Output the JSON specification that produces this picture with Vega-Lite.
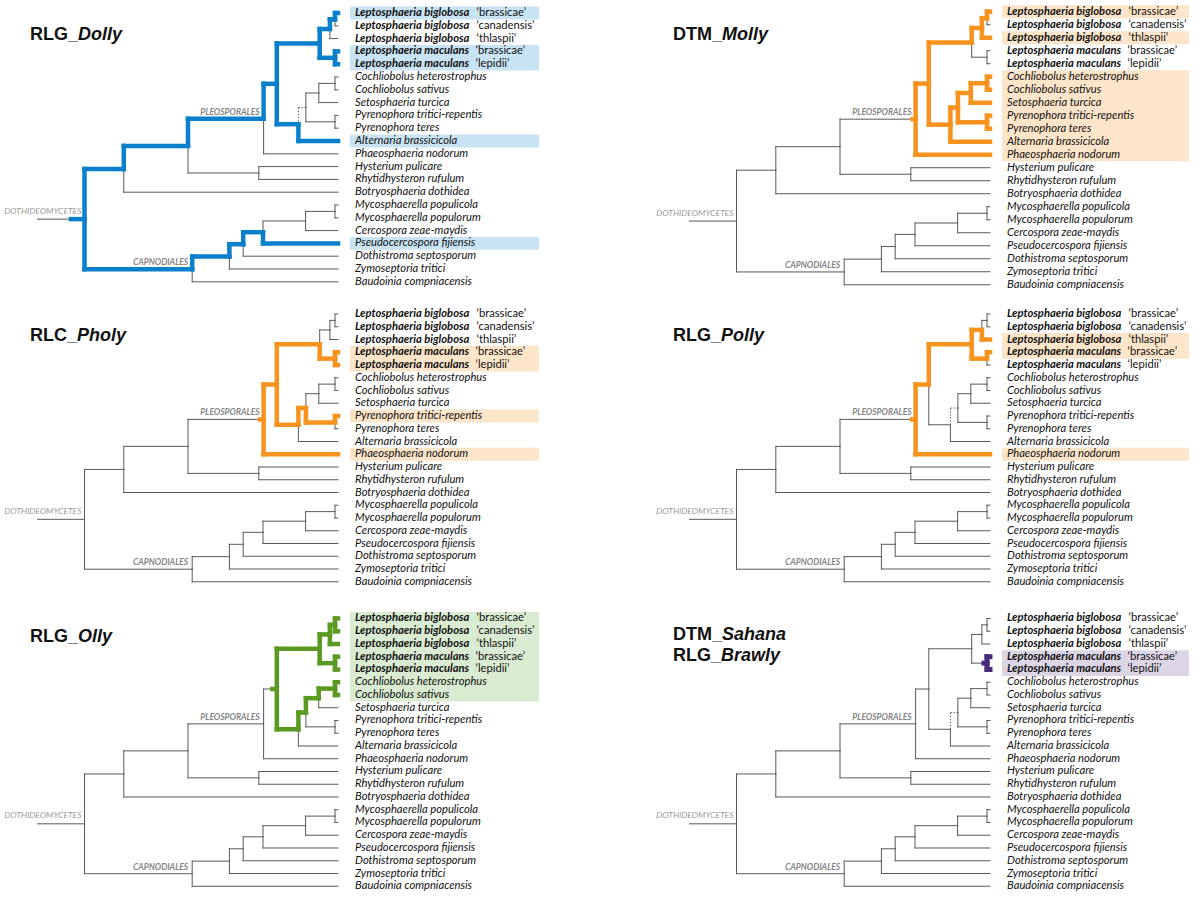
{
"$schema": "https://vega.github.io/schema/vega-lite/v6.json",
"background": "white",
"padding": 0,
"config": {"view": {"stroke": null}, "axis": {"disable": true}},
"datasets": {
"nodes": [
{"id":"R0","depth":0,"pos":17.1035},
{"id":"I","parent":"R0","depth":15.5,"pos":17.1035},
{"id":"H","parent":"I","depth":28.6,"pos":13.1914},
{"id":"capno","parent":"I","depth":51.4,"pos":21.0156},
{"id":"F","parent":"H","depth":50,"pos":11.3828},
{"id":"E","parent":"F","depth":75.2,"pos":9.2656},
{"id":"G","parent":"F","depth":73.6,"pos":13.5},
{"id":"A","parent":"E","depth":79.6,"pos":6.5313},
{"id":"lepto","parent":"A","depth":93.9,"pos":3.375},
{"id":"big","parent":"lepto","depth":97.3,"pos":2.25},
{"id":"p12","parent":"big","depth":99,"pos":1.5},
{"id":"mac","parent":"lepto","depth":99,"pos":4.5},
{"id":"B","parent":"A","depth":86.8,"pos":9.6875},
{"id":"C","parent":"B","depth":89.3,"pos":8.375},
{"id":"D","parent":"C","depth":93.6,"pos":7.25},
{"id":"coch","parent":"D","depth":99,"pos":6.5},
{"id":"pyr","parent":"C","depth":99,"pos":9.5},
{"id":"m5","parent":"capno","depth":63.8,"pos":20.0313},
{"id":"m4","parent":"m5","depth":68.4,"pos":19.0625},
{"id":"m3","parent":"m4","depth":75,"pos":18.125},
{"id":"m2","parent":"m3","depth":89.2,"pos":17.25},
{"id":"myco","parent":"m2","depth":99,"pos":16.5},
{"id":"L1","parent":"p12","depth":100,"pos":1,"name":"Leptosphaeria biglobosa","strain":"‘brassicae’"},
{"id":"L2","parent":"p12","depth":100,"pos":2,"name":"Leptosphaeria biglobosa","strain":"‘canadensis’"},
{"id":"L3","parent":"big","depth":100,"pos":3,"name":"Leptosphaeria biglobosa","strain":"‘thlaspii’"},
{"id":"L4","parent":"mac","depth":100,"pos":4,"name":"Leptosphaeria maculans","strain":"‘brassicae’"},
{"id":"L5","parent":"mac","depth":100,"pos":5,"name":"Leptosphaeria maculans","strain":"‘lepidii’"},
{"id":"L6","parent":"coch","depth":100,"pos":6,"name":"Cochliobolus heterostrophus"},
{"id":"L7","parent":"coch","depth":100,"pos":7,"name":"Cochliobolus sativus"},
{"id":"L8","parent":"D","depth":100,"pos":8,"name":"Setosphaeria turcica"},
{"id":"L9","parent":"pyr","depth":100,"pos":9,"name":"Pyrenophora tritici-repentis"},
{"id":"L10","parent":"pyr","depth":100,"pos":10,"name":"Pyrenophora teres"},
{"id":"L11","parent":"B","depth":100,"pos":11,"name":"Alternaria brassicicola"},
{"id":"L12","parent":"E","depth":100,"pos":12,"name":"Phaeosphaeria nodorum"},
{"id":"L13","parent":"G","depth":100,"pos":13,"name":"Hysterium pulicare"},
{"id":"L14","parent":"G","depth":100,"pos":14,"name":"Rhytidhysteron rufulum"},
{"id":"L15","parent":"H","depth":100,"pos":15,"name":"Botryosphaeria dothidea"},
{"id":"L16","parent":"myco","depth":100,"pos":16,"name":"Mycosphaerella populicola"},
{"id":"L17","parent":"myco","depth":100,"pos":17,"name":"Mycosphaerella populorum"},
{"id":"L18","parent":"m2","depth":100,"pos":18,"name":"Cercospora zeae-maydis"},
{"id":"L19","parent":"m3","depth":100,"pos":19,"name":"Pseudocercospora fijiensis"},
{"id":"L20","parent":"m4","depth":100,"pos":20,"name":"Dothistroma septosporum"},
{"id":"L21","parent":"m5","depth":100,"pos":21,"name":"Zymoseptoria tritici"},
{"id":"L22","parent":"capno","depth":100,"pos":22,"name":"Baudoinia compniacensis"}
],
"hl": [
{"panel":"Dolly","node":"H"},{"panel":"Dolly","node":"F"},{"panel":"Dolly","node":"E"},{"panel":"Dolly","node":"A"},{"panel":"Dolly","node":"lepto"},{"panel":"Dolly","node":"big"},{"panel":"Dolly","node":"p12"},{"panel":"Dolly","node":"L1"},{"panel":"Dolly","node":"mac"},{"panel":"Dolly","node":"L4"},{"panel":"Dolly","node":"L5"},{"panel":"Dolly","node":"B"},{"panel":"Dolly","node":"L11"},{"panel":"Dolly","node":"capno"},{"panel":"Dolly","node":"m5"},{"panel":"Dolly","node":"m4"},{"panel":"Dolly","node":"m3"},{"panel":"Dolly","node":"L19"},
{"panel":"Molly","node":"A"},{"panel":"Molly","node":"L12"},{"panel":"Molly","node":"lepto"},{"panel":"Molly","node":"big"},{"panel":"Molly","node":"p12"},{"panel":"Molly","node":"L1"},{"panel":"Molly","node":"L3"},{"panel":"Molly","node":"B"},{"panel":"Molly","node":"L11"},{"panel":"Molly","node":"C"},{"panel":"Molly","node":"D"},{"panel":"Molly","node":"coch"},{"panel":"Molly","node":"L6"},{"panel":"Molly","node":"L7"},{"panel":"Molly","node":"L8"},{"panel":"Molly","node":"pyr"},{"panel":"Molly","node":"L9"},{"panel":"Molly","node":"L10"},
{"panel":"Pholy","node":"A"},{"panel":"Pholy","node":"L12"},{"panel":"Pholy","node":"lepto"},{"panel":"Pholy","node":"mac"},{"panel":"Pholy","node":"L4"},{"panel":"Pholy","node":"L5"},{"panel":"Pholy","node":"B"},{"panel":"Pholy","node":"C"},{"panel":"Pholy","node":"pyr"},{"panel":"Pholy","node":"L9"},
{"panel":"Polly","node":"A"},{"panel":"Polly","node":"L12"},{"panel":"Polly","node":"lepto"},{"panel":"Polly","node":"big"},{"panel":"Polly","node":"L3"},{"panel":"Polly","node":"mac"},{"panel":"Polly","node":"L4"},
{"panel":"Olly","node":"lepto"},{"panel":"Olly","node":"big"},{"panel":"Olly","node":"p12"},{"panel":"Olly","node":"L1"},{"panel":"Olly","node":"L2"},{"panel":"Olly","node":"L3"},{"panel":"Olly","node":"mac"},{"panel":"Olly","node":"L4"},{"panel":"Olly","node":"L5"},{"panel":"Olly","node":"B"},{"panel":"Olly","node":"C"},{"panel":"Olly","node":"D"},{"panel":"Olly","node":"coch"},{"panel":"Olly","node":"L6"},{"panel":"Olly","node":"L7"},
{"panel":"Sahana","node":"L4"},{"panel":"Sahana","node":"L5"}
],
"stubs": [
{"panel":"Dolly","node":"I"},{"panel":"Molly","node":"E"},{"panel":"Pholy","node":"E"},{"panel":"Polly","node":"E"},{"panel":"Olly","node":"A"},{"panel":"Sahana","node":"mac"}
],
"boxes": [
{"panel":"Dolly","from":1,"to":1},{"panel":"Dolly","from":4,"to":5},{"panel":"Dolly","from":11,"to":11},{"panel":"Dolly","from":19,"to":19},
{"panel":"Molly","from":1,"to":1},{"panel":"Molly","from":3,"to":3},{"panel":"Molly","from":6,"to":12},
{"panel":"Pholy","from":4,"to":5},{"panel":"Pholy","from":9,"to":9},{"panel":"Pholy","from":12,"to":12},
{"panel":"Polly","from":3,"to":4},{"panel":"Polly","from":12,"to":12},
{"panel":"Olly","from":1,"to":7},
{"panel":"Sahana","from":4,"to":5}
],
"clades": [
{"node":"I","label":"DOTHIDEOMYCETES"},{"node":"E","label":"PLEOSPORALES"},{"node":"capno","label":"CAPNODIALES"}
],
"titles": [
{"panel":"Dolly","line":1,"prefix":"RLG_","name":"Dolly"},
{"panel":"Molly","line":1,"prefix":"DTM_","name":"Molly"},
{"panel":"Pholy","line":1,"prefix":"RLC_","name":"Pholy"},
{"panel":"Polly","line":1,"prefix":"RLG_","name":"Polly"},
{"panel":"Olly","line":1,"prefix":"RLG_","name":"Olly"},
{"panel":"Sahana","line":1,"prefix":"DTM_","name":"Sahana"},
{"panel":"Sahana","line":2,"prefix":"RLG_","name":"Brawly"}
]
},
"columns": 2,
"spacing": 0,
"align": "each",
"bounds": "flush",
"concat": [
{"width":652,"height":301,"layer":[
{"data":{"name":"boxes"},"transform":[{"filter":"datum.panel == 'Dolly'"}],"mark":{"type":"rect","color":"#c8e3f3","yOffset":-6.4,"y2Offset":6.4},"encoding":{"x":{"datum":104,"type":"quantitative","scale":{"domain":[-12.667,204.667],"nice":false,"zero":false},"axis":null},"x2":{"datum":167},"y":{"field":"from","type":"quantitative","scale":{"domain":[-0.0156,23.5],"reverse":true,"nice":false,"zero":false},"axis":null},"y2":{"field":"to"}}},
{"data":{"name":"nodes"},"transform":[{"filter":"datum.parent && datum.id != 'C'"},{"lookup":"parent","from":{"data":{"name":"nodes"},"key":"id","fields":["depth","pos"]},"as":["pdepth","ppos"]}],"mark":{"type":"rule","color":"#595959","strokeWidth":1,"strokeCap":"square"},"encoding":{"x":{"field":"pdepth","type":"quantitative"},"y":{"field":"ppos","type":"quantitative"},"y2":{"field":"pos"}}},
{"data":{"name":"nodes"},"transform":[{"filter":"datum.parent && datum.id != 'C'"},{"lookup":"parent","from":{"data":{"name":"nodes"},"key":"id","fields":["depth","pos"]},"as":["pdepth","ppos"]}],"mark":{"type":"rule","color":"#595959","strokeWidth":1,"strokeCap":"square"},"encoding":{"x":{"field":"pdepth","type":"quantitative"},"x2":{"field":"depth"},"y":{"field":"pos","type":"quantitative"}}},
{"data":{"name":"nodes"},"transform":[{"filter":"datum.id == 'C'"},{"lookup":"parent","from":{"data":{"name":"nodes"},"key":"id","fields":["depth","pos"]},"as":["pdepth","ppos"]}],"mark":{"type":"rule","color":"#666666","strokeWidth":1,"strokeDash":[1.5,1.5]},"encoding":{"x":{"field":"pdepth","type":"quantitative"},"y":{"field":"ppos","type":"quantitative"},"y2":{"field":"pos"}}},
{"data":{"name":"nodes"},"transform":[{"filter":"datum.id == 'C'"},{"lookup":"parent","from":{"data":{"name":"nodes"},"key":"id","fields":["depth","pos"]},"as":["pdepth","ppos"]}],"mark":{"type":"rule","color":"#666666","strokeWidth":1,"strokeDash":[1.5,1.5]},"encoding":{"x":{"field":"pdepth","type":"quantitative"},"x2":{"field":"depth"},"y":{"field":"pos","type":"quantitative"}}},
{"data":{"name":"hl"},"transform":[{"filter":"datum.panel == 'Dolly'"},{"lookup":"node","from":{"data":{"name":"nodes"},"key":"id","fields":["parent","depth","pos"]}},{"lookup":"parent","from":{"data":{"name":"nodes"},"key":"id","fields":["depth","pos"]},"as":["pdepth","ppos"]}],"mark":{"type":"rule","color":"#0a7fcc","strokeWidth":4.5,"strokeCap":"square"},"encoding":{"x":{"field":"pdepth","type":"quantitative"},"y":{"field":"ppos","type":"quantitative"},"y2":{"field":"pos"}}},
{"data":{"name":"hl"},"transform":[{"filter":"datum.panel == 'Dolly'"},{"lookup":"node","from":{"data":{"name":"nodes"},"key":"id","fields":["parent","depth","pos"]}},{"lookup":"parent","from":{"data":{"name":"nodes"},"key":"id","fields":["depth","pos"]},"as":["pdepth","ppos"]}],"mark":{"type":"rule","color":"#0a7fcc","strokeWidth":4.5,"strokeCap":"square"},"encoding":{"x":{"field":"pdepth","type":"quantitative"},"x2":{"field":"depth"},"y":{"field":"pos","type":"quantitative"}}},
{"data":{"name":"stubs"},"transform":[{"filter":"datum.panel == 'Dolly'"},{"lookup":"node","from":{"data":{"name":"nodes"},"key":"id","fields":["depth","pos"]}}],"mark":{"type":"rule","color":"#0a7fcc","strokeWidth":4.5,"strokeCap":"square","xOffset":-13.5},"encoding":{"x":{"field":"depth","type":"quantitative"},"x2":{"field":"depth"},"y":{"field":"pos","type":"quantitative"}}},
{"data":{"name":"nodes"},"transform":[{"filter":"datum.strain"}],"mark":{"type":"text","align":"left","baseline":"middle","dx":17,"font":"Lato","fontSize":11.2,"fontStyle":"italic","fontWeight":"bold","color":"#111111"},"encoding":{"x":{"field":"depth","type":"quantitative"},"y":{"field":"pos","type":"quantitative"},"text":{"field":"name"}}},
{"data":{"name":"nodes"},"transform":[{"filter":"datum.name && !datum.strain"}],"mark":{"type":"text","align":"left","baseline":"middle","dx":17,"font":"Lato","fontSize":11.2,"fontStyle":"italic","color":"#111111"},"encoding":{"x":{"field":"depth","type":"quantitative"},"y":{"field":"pos","type":"quantitative"},"text":{"field":"name"}}},
{"data":{"name":"nodes"},"transform":[{"filter":"datum.name == 'Leptosphaeria biglobosa'"}],"mark":{"type":"text","align":"left","baseline":"middle","dx":138.5,"font":"Lato","fontSize":11.2,"color":"#111111"},"encoding":{"x":{"field":"depth","type":"quantitative"},"y":{"field":"pos","type":"quantitative"},"text":{"field":"strain"}}},
{"data":{"name":"nodes"},"transform":[{"filter":"datum.name == 'Leptosphaeria maculans'"}],"mark":{"type":"text","align":"left","baseline":"middle","dx":137.5,"font":"Lato","fontSize":11.2,"color":"#111111"},"encoding":{"x":{"field":"depth","type":"quantitative"},"y":{"field":"pos","type":"quantitative"},"text":{"field":"strain"}}},
{"data":{"name":"clades"},"transform":[{"filter":"datum.node != 'I'"},{"lookup":"node","from":{"data":{"name":"nodes"},"key":"id","fields":["depth","pos"]}}],"mark":{"type":"text","align":"right","baseline":"alphabetic","dx":-4,"dy":-4,"font":"Lato","fontSize":8.5,"fontStyle":"italic","fontWeight":"bold","color":"#858585"},"encoding":{"x":{"field":"depth","type":"quantitative"},"y":{"field":"pos","type":"quantitative"},"text":{"field":"label"}}},
{"data":{"name":"clades"},"transform":[{"filter":"datum.node == 'I'"},{"lookup":"node","from":{"data":{"name":"nodes"},"key":"id","fields":["depth","pos"]}}],"mark":{"type":"text","align":"right","baseline":"alphabetic","dx":-3,"dy":-5.5,"font":"Lato","fontSize":8.5,"fontStyle":"italic","color":"#9a9a9a"},"encoding":{"x":{"field":"depth","type":"quantitative"},"y":{"field":"pos","type":"quantitative"},"text":{"field":"label"}}},
{"data":{"name":"titles"},"transform":[{"filter":"datum.panel == 'Dolly'"}],"mark":{"type":"text","align":"right","baseline":"middle","font":"Liberation Sans","fontSize":18,"fontWeight":"bold","color":"#111111"},"encoding":{"x":{"datum":13.33,"type":"quantitative"},"y":{"datum":2.72,"type":"quantitative"},"text":{"field":"prefix"}}},
{"data":{"name":"titles"},"transform":[{"filter":"datum.panel == 'Dolly'"}],"mark":{"type":"text","align":"left","baseline":"middle","font":"Liberation Sans","fontSize":18,"fontWeight":"bold","fontStyle":"italic","color":"#111111"},"encoding":{"x":{"datum":13.33,"type":"quantitative"},"y":{"datum":2.72,"type":"quantitative"},"text":{"field":"name"}}}
]},
{"width":548,"height":301,"layer":[
{"data":{"name":"boxes"},"transform":[{"filter":"datum.panel == 'Molly'"}],"mark":{"type":"rect","color":"#fde5c9","yOffset":-6.5,"y2Offset":6.5},"encoding":{"x":{"datum":104,"type":"quantitative","scale":{"domain":[-12.667,170],"nice":false,"zero":false},"axis":null},"x2":{"datum":166.3},"y":{"field":"from","type":"quantitative","scale":{"domain":[0.1,23.25],"reverse":true,"nice":false,"zero":false},"axis":null},"y2":{"field":"to"}}},
{"data":{"name":"nodes"},"transform":[{"filter":"datum.parent && datum.id != 'C'"},{"lookup":"parent","from":{"data":{"name":"nodes"},"key":"id","fields":["depth","pos"]},"as":["pdepth","ppos"]}],"mark":{"type":"rule","color":"#595959","strokeWidth":1,"strokeCap":"square"},"encoding":{"x":{"field":"pdepth","type":"quantitative"},"y":{"field":"ppos","type":"quantitative"},"y2":{"field":"pos"}}},
{"data":{"name":"nodes"},"transform":[{"filter":"datum.parent && datum.id != 'C'"},{"lookup":"parent","from":{"data":{"name":"nodes"},"key":"id","fields":["depth","pos"]},"as":["pdepth","ppos"]}],"mark":{"type":"rule","color":"#595959","strokeWidth":1,"strokeCap":"square"},"encoding":{"x":{"field":"pdepth","type":"quantitative"},"x2":{"field":"depth"},"y":{"field":"pos","type":"quantitative"}}},
{"data":{"name":"nodes"},"transform":[{"filter":"datum.id == 'C'"},{"lookup":"parent","from":{"data":{"name":"nodes"},"key":"id","fields":["depth","pos"]},"as":["pdepth","ppos"]}],"mark":{"type":"rule","color":"#666666","strokeWidth":1,"strokeDash":[1.5,1.5]},"encoding":{"x":{"field":"pdepth","type":"quantitative"},"y":{"field":"ppos","type":"quantitative"},"y2":{"field":"pos"}}},
{"data":{"name":"nodes"},"transform":[{"filter":"datum.id == 'C'"},{"lookup":"parent","from":{"data":{"name":"nodes"},"key":"id","fields":["depth","pos"]},"as":["pdepth","ppos"]}],"mark":{"type":"rule","color":"#666666","strokeWidth":1,"strokeDash":[1.5,1.5]},"encoding":{"x":{"field":"pdepth","type":"quantitative"},"x2":{"field":"depth"},"y":{"field":"pos","type":"quantitative"}}},
{"data":{"name":"hl"},"transform":[{"filter":"datum.panel == 'Molly'"},{"lookup":"node","from":{"data":{"name":"nodes"},"key":"id","fields":["parent","depth","pos"]}},{"lookup":"parent","from":{"data":{"name":"nodes"},"key":"id","fields":["depth","pos"]},"as":["pdepth","ppos"]}],"mark":{"type":"rule","color":"#f7931e","strokeWidth":4.5,"strokeCap":"square"},"encoding":{"x":{"field":"pdepth","type":"quantitative"},"y":{"field":"ppos","type":"quantitative"},"y2":{"field":"pos"}}},
{"data":{"name":"hl"},"transform":[{"filter":"datum.panel == 'Molly'"},{"lookup":"node","from":{"data":{"name":"nodes"},"key":"id","fields":["parent","depth","pos"]}},{"lookup":"parent","from":{"data":{"name":"nodes"},"key":"id","fields":["depth","pos"]},"as":["pdepth","ppos"]}],"mark":{"type":"rule","color":"#f7931e","strokeWidth":4.5,"strokeCap":"square"},"encoding":{"x":{"field":"pdepth","type":"quantitative"},"x2":{"field":"depth"},"y":{"field":"pos","type":"quantitative"}}},
{"data":{"name":"stubs"},"transform":[{"filter":"datum.panel == 'Molly'"},{"lookup":"node","from":{"data":{"name":"nodes"},"key":"id","fields":["depth","pos"]}}],"mark":{"type":"rule","color":"#f7931e","strokeWidth":4.5,"strokeCap":"square","xOffset":-3},"encoding":{"x":{"field":"depth","type":"quantitative"},"x2":{"field":"depth"},"y":{"field":"pos","type":"quantitative"}}},
{"data":{"name":"nodes"},"transform":[{"filter":"datum.strain"}],"mark":{"type":"text","align":"left","baseline":"middle","dx":17,"font":"Lato","fontSize":11.2,"fontStyle":"italic","fontWeight":"bold","color":"#111111"},"encoding":{"x":{"field":"depth","type":"quantitative"},"y":{"field":"pos","type":"quantitative"},"text":{"field":"name"}}},
{"data":{"name":"nodes"},"transform":[{"filter":"datum.name && !datum.strain"}],"mark":{"type":"text","align":"left","baseline":"middle","dx":17,"font":"Lato","fontSize":11.2,"fontStyle":"italic","color":"#111111"},"encoding":{"x":{"field":"depth","type":"quantitative"},"y":{"field":"pos","type":"quantitative"},"text":{"field":"name"}}},
{"data":{"name":"nodes"},"transform":[{"filter":"datum.name == 'Leptosphaeria biglobosa'"}],"mark":{"type":"text","align":"left","baseline":"middle","dx":138.5,"font":"Lato","fontSize":11.2,"color":"#111111"},"encoding":{"x":{"field":"depth","type":"quantitative"},"y":{"field":"pos","type":"quantitative"},"text":{"field":"strain"}}},
{"data":{"name":"nodes"},"transform":[{"filter":"datum.name == 'Leptosphaeria maculans'"}],"mark":{"type":"text","align":"left","baseline":"middle","dx":137.5,"font":"Lato","fontSize":11.2,"color":"#111111"},"encoding":{"x":{"field":"depth","type":"quantitative"},"y":{"field":"pos","type":"quantitative"},"text":{"field":"strain"}}},
{"data":{"name":"clades"},"transform":[{"filter":"datum.node != 'I'"},{"lookup":"node","from":{"data":{"name":"nodes"},"key":"id","fields":["depth","pos"]}}],"mark":{"type":"text","align":"right","baseline":"alphabetic","dx":-4,"dy":-4,"font":"Lato","fontSize":8.5,"fontStyle":"italic","fontWeight":"bold","color":"#858585"},"encoding":{"x":{"field":"depth","type":"quantitative"},"y":{"field":"pos","type":"quantitative"},"text":{"field":"label"}}},
{"data":{"name":"clades"},"transform":[{"filter":"datum.node == 'I'"},{"lookup":"node","from":{"data":{"name":"nodes"},"key":"id","fields":["depth","pos"]}}],"mark":{"type":"text","align":"right","baseline":"alphabetic","dx":-3,"dy":-5.5,"font":"Lato","fontSize":8.5,"fontStyle":"italic","color":"#9a9a9a"},"encoding":{"x":{"field":"depth","type":"quantitative"},"y":{"field":"pos","type":"quantitative"},"text":{"field":"label"}}},
{"data":{"name":"titles"},"transform":[{"filter":"datum.panel == 'Molly'"}],"mark":{"type":"text","align":"right","baseline":"middle","font":"Liberation Sans","fontSize":18,"fontWeight":"bold","color":"#111111"},"encoding":{"x":{"datum":10.67,"type":"quantitative"},"y":{"datum":2.79,"type":"quantitative"},"text":{"field":"prefix"}}},
{"data":{"name":"titles"},"transform":[{"filter":"datum.panel == 'Molly'"}],"mark":{"type":"text","align":"left","baseline":"middle","font":"Liberation Sans","fontSize":18,"fontWeight":"bold","fontStyle":"italic","color":"#111111"},"encoding":{"x":{"datum":10.67,"type":"quantitative"},"y":{"datum":2.79,"type":"quantitative"},"text":{"field":"name"}}}
]},
{"width":652,"height":304,"layer":[
{"data":{"name":"boxes"},"transform":[{"filter":"datum.panel == 'Pholy'"}],"mark":{"type":"rect","color":"#fde5c9","yOffset":-6.4,"y2Offset":6.4},"encoding":{"x":{"datum":104,"type":"quantitative","scale":{"domain":[-12.667,204.667],"nice":false,"zero":false},"axis":null},"x2":{"datum":167},"y":{"field":"from","type":"quantitative","scale":{"domain":[-0.0196,23.823],"reverse":true,"nice":false,"zero":false},"axis":null},"y2":{"field":"to"}}},
{"data":{"name":"nodes"},"transform":[{"filter":"datum.parent && datum.id != 'C'"},{"lookup":"parent","from":{"data":{"name":"nodes"},"key":"id","fields":["depth","pos"]},"as":["pdepth","ppos"]}],"mark":{"type":"rule","color":"#595959","strokeWidth":1,"strokeCap":"square"},"encoding":{"x":{"field":"pdepth","type":"quantitative"},"y":{"field":"ppos","type":"quantitative"},"y2":{"field":"pos"}}},
{"data":{"name":"nodes"},"transform":[{"filter":"datum.parent && datum.id != 'C'"},{"lookup":"parent","from":{"data":{"name":"nodes"},"key":"id","fields":["depth","pos"]},"as":["pdepth","ppos"]}],"mark":{"type":"rule","color":"#595959","strokeWidth":1,"strokeCap":"square"},"encoding":{"x":{"field":"pdepth","type":"quantitative"},"x2":{"field":"depth"},"y":{"field":"pos","type":"quantitative"}}},
{"data":{"name":"nodes"},"transform":[{"filter":"datum.id == 'C'"},{"lookup":"parent","from":{"data":{"name":"nodes"},"key":"id","fields":["depth","pos"]},"as":["pdepth","ppos"]}],"mark":{"type":"rule","color":"#666666","strokeWidth":1,"strokeDash":[1.5,1.5]},"encoding":{"x":{"field":"pdepth","type":"quantitative"},"y":{"field":"ppos","type":"quantitative"},"y2":{"field":"pos"}}},
{"data":{"name":"nodes"},"transform":[{"filter":"datum.id == 'C'"},{"lookup":"parent","from":{"data":{"name":"nodes"},"key":"id","fields":["depth","pos"]},"as":["pdepth","ppos"]}],"mark":{"type":"rule","color":"#666666","strokeWidth":1,"strokeDash":[1.5,1.5]},"encoding":{"x":{"field":"pdepth","type":"quantitative"},"x2":{"field":"depth"},"y":{"field":"pos","type":"quantitative"}}},
{"data":{"name":"hl"},"transform":[{"filter":"datum.panel == 'Pholy'"},{"lookup":"node","from":{"data":{"name":"nodes"},"key":"id","fields":["parent","depth","pos"]}},{"lookup":"parent","from":{"data":{"name":"nodes"},"key":"id","fields":["depth","pos"]},"as":["pdepth","ppos"]}],"mark":{"type":"rule","color":"#f7931e","strokeWidth":4.5,"strokeCap":"square"},"encoding":{"x":{"field":"pdepth","type":"quantitative"},"y":{"field":"ppos","type":"quantitative"},"y2":{"field":"pos"}}},
{"data":{"name":"hl"},"transform":[{"filter":"datum.panel == 'Pholy'"},{"lookup":"node","from":{"data":{"name":"nodes"},"key":"id","fields":["parent","depth","pos"]}},{"lookup":"parent","from":{"data":{"name":"nodes"},"key":"id","fields":["depth","pos"]},"as":["pdepth","ppos"]}],"mark":{"type":"rule","color":"#f7931e","strokeWidth":4.5,"strokeCap":"square"},"encoding":{"x":{"field":"pdepth","type":"quantitative"},"x2":{"field":"depth"},"y":{"field":"pos","type":"quantitative"}}},
{"data":{"name":"stubs"},"transform":[{"filter":"datum.panel == 'Pholy'"},{"lookup":"node","from":{"data":{"name":"nodes"},"key":"id","fields":["depth","pos"]}}],"mark":{"type":"rule","color":"#f7931e","strokeWidth":4.5,"strokeCap":"square","xOffset":-3.5},"encoding":{"x":{"field":"depth","type":"quantitative"},"x2":{"field":"depth"},"y":{"field":"pos","type":"quantitative"}}},
{"data":{"name":"nodes"},"transform":[{"filter":"datum.strain"}],"mark":{"type":"text","align":"left","baseline":"middle","dx":17,"font":"Lato","fontSize":11.2,"fontStyle":"italic","fontWeight":"bold","color":"#111111"},"encoding":{"x":{"field":"depth","type":"quantitative"},"y":{"field":"pos","type":"quantitative"},"text":{"field":"name"}}},
{"data":{"name":"nodes"},"transform":[{"filter":"datum.name && !datum.strain"}],"mark":{"type":"text","align":"left","baseline":"middle","dx":17,"font":"Lato","fontSize":11.2,"fontStyle":"italic","color":"#111111"},"encoding":{"x":{"field":"depth","type":"quantitative"},"y":{"field":"pos","type":"quantitative"},"text":{"field":"name"}}},
{"data":{"name":"nodes"},"transform":[{"filter":"datum.name == 'Leptosphaeria biglobosa'"}],"mark":{"type":"text","align":"left","baseline":"middle","dx":138.5,"font":"Lato","fontSize":11.2,"color":"#111111"},"encoding":{"x":{"field":"depth","type":"quantitative"},"y":{"field":"pos","type":"quantitative"},"text":{"field":"strain"}}},
{"data":{"name":"nodes"},"transform":[{"filter":"datum.name == 'Leptosphaeria maculans'"}],"mark":{"type":"text","align":"left","baseline":"middle","dx":137.5,"font":"Lato","fontSize":11.2,"color":"#111111"},"encoding":{"x":{"field":"depth","type":"quantitative"},"y":{"field":"pos","type":"quantitative"},"text":{"field":"strain"}}},
{"data":{"name":"clades"},"transform":[{"filter":"datum.node != 'I'"},{"lookup":"node","from":{"data":{"name":"nodes"},"key":"id","fields":["depth","pos"]}}],"mark":{"type":"text","align":"right","baseline":"alphabetic","dx":-4,"dy":-4,"font":"Lato","fontSize":8.5,"fontStyle":"italic","fontWeight":"bold","color":"#858585"},"encoding":{"x":{"field":"depth","type":"quantitative"},"y":{"field":"pos","type":"quantitative"},"text":{"field":"label"}}},
{"data":{"name":"clades"},"transform":[{"filter":"datum.node == 'I'"},{"lookup":"node","from":{"data":{"name":"nodes"},"key":"id","fields":["depth","pos"]}}],"mark":{"type":"text","align":"right","baseline":"alphabetic","dx":-3,"dy":-5.5,"font":"Lato","fontSize":8.5,"fontStyle":"italic","color":"#9a9a9a"},"encoding":{"x":{"field":"depth","type":"quantitative"},"y":{"field":"pos","type":"quantitative"},"text":{"field":"label"}}},
{"data":{"name":"titles"},"transform":[{"filter":"datum.panel == 'Pholy'"}],"mark":{"type":"text","align":"right","baseline":"middle","font":"Liberation Sans","fontSize":18,"fontWeight":"bold","color":"#111111"},"encoding":{"x":{"datum":13.0,"type":"quantitative"},"y":{"datum":2.73,"type":"quantitative"},"text":{"field":"prefix"}}},
{"data":{"name":"titles"},"transform":[{"filter":"datum.panel == 'Pholy'"}],"mark":{"type":"text","align":"left","baseline":"middle","font":"Liberation Sans","fontSize":18,"fontWeight":"bold","fontStyle":"italic","color":"#111111"},"encoding":{"x":{"datum":13.0,"type":"quantitative"},"y":{"datum":2.73,"type":"quantitative"},"text":{"field":"name"}}}
]},
{"width":548,"height":304,"layer":[
{"data":{"name":"boxes"},"transform":[{"filter":"datum.panel == 'Polly'"}],"mark":{"type":"rect","color":"#fde5c9","yOffset":-6.4,"y2Offset":6.4},"encoding":{"x":{"datum":104,"type":"quantitative","scale":{"domain":[-12.667,170],"nice":false,"zero":false},"axis":null},"x2":{"datum":166.3},"y":{"field":"from","type":"quantitative","scale":{"domain":[-0.0196,23.823],"reverse":true,"nice":false,"zero":false},"axis":null},"y2":{"field":"to"}}},
{"data":{"name":"nodes"},"transform":[{"filter":"datum.parent && datum.id != 'C'"},{"lookup":"parent","from":{"data":{"name":"nodes"},"key":"id","fields":["depth","pos"]},"as":["pdepth","ppos"]}],"mark":{"type":"rule","color":"#595959","strokeWidth":1,"strokeCap":"square"},"encoding":{"x":{"field":"pdepth","type":"quantitative"},"y":{"field":"ppos","type":"quantitative"},"y2":{"field":"pos"}}},
{"data":{"name":"nodes"},"transform":[{"filter":"datum.parent && datum.id != 'C'"},{"lookup":"parent","from":{"data":{"name":"nodes"},"key":"id","fields":["depth","pos"]},"as":["pdepth","ppos"]}],"mark":{"type":"rule","color":"#595959","strokeWidth":1,"strokeCap":"square"},"encoding":{"x":{"field":"pdepth","type":"quantitative"},"x2":{"field":"depth"},"y":{"field":"pos","type":"quantitative"}}},
{"data":{"name":"nodes"},"transform":[{"filter":"datum.id == 'C'"},{"lookup":"parent","from":{"data":{"name":"nodes"},"key":"id","fields":["depth","pos"]},"as":["pdepth","ppos"]}],"mark":{"type":"rule","color":"#666666","strokeWidth":1,"strokeDash":[1.5,1.5]},"encoding":{"x":{"field":"pdepth","type":"quantitative"},"y":{"field":"ppos","type":"quantitative"},"y2":{"field":"pos"}}},
{"data":{"name":"nodes"},"transform":[{"filter":"datum.id == 'C'"},{"lookup":"parent","from":{"data":{"name":"nodes"},"key":"id","fields":["depth","pos"]},"as":["pdepth","ppos"]}],"mark":{"type":"rule","color":"#666666","strokeWidth":1,"strokeDash":[1.5,1.5]},"encoding":{"x":{"field":"pdepth","type":"quantitative"},"x2":{"field":"depth"},"y":{"field":"pos","type":"quantitative"}}},
{"data":{"name":"hl"},"transform":[{"filter":"datum.panel == 'Polly'"},{"lookup":"node","from":{"data":{"name":"nodes"},"key":"id","fields":["parent","depth","pos"]}},{"lookup":"parent","from":{"data":{"name":"nodes"},"key":"id","fields":["depth","pos"]},"as":["pdepth","ppos"]}],"mark":{"type":"rule","color":"#f7931e","strokeWidth":4.5,"strokeCap":"square"},"encoding":{"x":{"field":"pdepth","type":"quantitative"},"y":{"field":"ppos","type":"quantitative"},"y2":{"field":"pos"}}},
{"data":{"name":"hl"},"transform":[{"filter":"datum.panel == 'Polly'"},{"lookup":"node","from":{"data":{"name":"nodes"},"key":"id","fields":["parent","depth","pos"]}},{"lookup":"parent","from":{"data":{"name":"nodes"},"key":"id","fields":["depth","pos"]},"as":["pdepth","ppos"]}],"mark":{"type":"rule","color":"#f7931e","strokeWidth":4.5,"strokeCap":"square"},"encoding":{"x":{"field":"pdepth","type":"quantitative"},"x2":{"field":"depth"},"y":{"field":"pos","type":"quantitative"}}},
{"data":{"name":"stubs"},"transform":[{"filter":"datum.panel == 'Polly'"},{"lookup":"node","from":{"data":{"name":"nodes"},"key":"id","fields":["depth","pos"]}}],"mark":{"type":"rule","color":"#f7931e","strokeWidth":4.5,"strokeCap":"square","xOffset":-3.5},"encoding":{"x":{"field":"depth","type":"quantitative"},"x2":{"field":"depth"},"y":{"field":"pos","type":"quantitative"}}},
{"data":{"name":"nodes"},"transform":[{"filter":"datum.strain"}],"mark":{"type":"text","align":"left","baseline":"middle","dx":17,"font":"Lato","fontSize":11.2,"fontStyle":"italic","fontWeight":"bold","color":"#111111"},"encoding":{"x":{"field":"depth","type":"quantitative"},"y":{"field":"pos","type":"quantitative"},"text":{"field":"name"}}},
{"data":{"name":"nodes"},"transform":[{"filter":"datum.name && !datum.strain"}],"mark":{"type":"text","align":"left","baseline":"middle","dx":17,"font":"Lato","fontSize":11.2,"fontStyle":"italic","color":"#111111"},"encoding":{"x":{"field":"depth","type":"quantitative"},"y":{"field":"pos","type":"quantitative"},"text":{"field":"name"}}},
{"data":{"name":"nodes"},"transform":[{"filter":"datum.name == 'Leptosphaeria biglobosa'"}],"mark":{"type":"text","align":"left","baseline":"middle","dx":138.5,"font":"Lato","fontSize":11.2,"color":"#111111"},"encoding":{"x":{"field":"depth","type":"quantitative"},"y":{"field":"pos","type":"quantitative"},"text":{"field":"strain"}}},
{"data":{"name":"nodes"},"transform":[{"filter":"datum.name == 'Leptosphaeria maculans'"}],"mark":{"type":"text","align":"left","baseline":"middle","dx":137.5,"font":"Lato","fontSize":11.2,"color":"#111111"},"encoding":{"x":{"field":"depth","type":"quantitative"},"y":{"field":"pos","type":"quantitative"},"text":{"field":"strain"}}},
{"data":{"name":"clades"},"transform":[{"filter":"datum.node != 'I'"},{"lookup":"node","from":{"data":{"name":"nodes"},"key":"id","fields":["depth","pos"]}}],"mark":{"type":"text","align":"right","baseline":"alphabetic","dx":-4,"dy":-4,"font":"Lato","fontSize":8.5,"fontStyle":"italic","fontWeight":"bold","color":"#858585"},"encoding":{"x":{"field":"depth","type":"quantitative"},"y":{"field":"pos","type":"quantitative"},"text":{"field":"label"}}},
{"data":{"name":"clades"},"transform":[{"filter":"datum.node == 'I'"},{"lookup":"node","from":{"data":{"name":"nodes"},"key":"id","fields":["depth","pos"]}}],"mark":{"type":"text","align":"right","baseline":"alphabetic","dx":-3,"dy":-5.5,"font":"Lato","fontSize":8.5,"fontStyle":"italic","color":"#9a9a9a"},"encoding":{"x":{"field":"depth","type":"quantitative"},"y":{"field":"pos","type":"quantitative"},"text":{"field":"label"}}},
{"data":{"name":"titles"},"transform":[{"filter":"datum.panel == 'Polly'"}],"mark":{"type":"text","align":"right","baseline":"middle","font":"Liberation Sans","fontSize":18,"fontWeight":"bold","color":"#111111"},"encoding":{"x":{"datum":10.33,"type":"quantitative"},"y":{"datum":2.7,"type":"quantitative"},"text":{"field":"prefix"}}},
{"data":{"name":"titles"},"transform":[{"filter":"datum.panel == 'Polly'"}],"mark":{"type":"text","align":"left","baseline":"middle","font":"Liberation Sans","fontSize":18,"fontWeight":"bold","fontStyle":"italic","color":"#111111"},"encoding":{"x":{"datum":10.33,"type":"quantitative"},"y":{"datum":2.7,"type":"quantitative"},"text":{"field":"name"}}}
]},
{"width":652,"height":294,"layer":[
{"data":{"name":"boxes"},"transform":[{"filter":"datum.panel == 'Olly'"}],"mark":{"type":"rect","color":"#d9ebd0","yOffset":-6.4,"y2Offset":6.4},"encoding":{"x":{"datum":104,"type":"quantitative","scale":{"domain":[-12.667,204.667],"nice":false,"zero":false},"axis":null},"x2":{"datum":167},"y":{"field":"from","type":"quantitative","scale":{"domain":[-0.0588,23.0],"reverse":true,"nice":false,"zero":false},"axis":null},"y2":{"field":"to"}}},
{"data":{"name":"nodes"},"transform":[{"filter":"datum.parent && datum.id != 'C'"},{"lookup":"parent","from":{"data":{"name":"nodes"},"key":"id","fields":["depth","pos"]},"as":["pdepth","ppos"]}],"mark":{"type":"rule","color":"#595959","strokeWidth":1,"strokeCap":"square"},"encoding":{"x":{"field":"pdepth","type":"quantitative"},"y":{"field":"ppos","type":"quantitative"},"y2":{"field":"pos"}}},
{"data":{"name":"nodes"},"transform":[{"filter":"datum.parent && datum.id != 'C'"},{"lookup":"parent","from":{"data":{"name":"nodes"},"key":"id","fields":["depth","pos"]},"as":["pdepth","ppos"]}],"mark":{"type":"rule","color":"#595959","strokeWidth":1,"strokeCap":"square"},"encoding":{"x":{"field":"pdepth","type":"quantitative"},"x2":{"field":"depth"},"y":{"field":"pos","type":"quantitative"}}},
{"data":{"name":"nodes"},"transform":[{"filter":"datum.id == 'C'"},{"lookup":"parent","from":{"data":{"name":"nodes"},"key":"id","fields":["depth","pos"]},"as":["pdepth","ppos"]}],"mark":{"type":"rule","color":"#666666","strokeWidth":1,"strokeDash":[1.5,1.5]},"encoding":{"x":{"field":"pdepth","type":"quantitative"},"y":{"field":"ppos","type":"quantitative"},"y2":{"field":"pos"}}},
{"data":{"name":"nodes"},"transform":[{"filter":"datum.id == 'C'"},{"lookup":"parent","from":{"data":{"name":"nodes"},"key":"id","fields":["depth","pos"]},"as":["pdepth","ppos"]}],"mark":{"type":"rule","color":"#666666","strokeWidth":1,"strokeDash":[1.5,1.5]},"encoding":{"x":{"field":"pdepth","type":"quantitative"},"x2":{"field":"depth"},"y":{"field":"pos","type":"quantitative"}}},
{"data":{"name":"hl"},"transform":[{"filter":"datum.panel == 'Olly'"},{"lookup":"node","from":{"data":{"name":"nodes"},"key":"id","fields":["parent","depth","pos"]}},{"lookup":"parent","from":{"data":{"name":"nodes"},"key":"id","fields":["depth","pos"]},"as":["pdepth","ppos"]}],"mark":{"type":"rule","color":"#5b9a22","strokeWidth":4.5,"strokeCap":"square"},"encoding":{"x":{"field":"pdepth","type":"quantitative"},"y":{"field":"ppos","type":"quantitative"},"y2":{"field":"pos"}}},
{"data":{"name":"hl"},"transform":[{"filter":"datum.panel == 'Olly'"},{"lookup":"node","from":{"data":{"name":"nodes"},"key":"id","fields":["parent","depth","pos"]}},{"lookup":"parent","from":{"data":{"name":"nodes"},"key":"id","fields":["depth","pos"]},"as":["pdepth","ppos"]}],"mark":{"type":"rule","color":"#5b9a22","strokeWidth":4.5,"strokeCap":"square"},"encoding":{"x":{"field":"pdepth","type":"quantitative"},"x2":{"field":"depth"},"y":{"field":"pos","type":"quantitative"}}},
{"data":{"name":"stubs"},"transform":[{"filter":"datum.panel == 'Olly'"},{"lookup":"node","from":{"data":{"name":"nodes"},"key":"id","fields":["depth","pos"]}}],"mark":{"type":"rule","color":"#5b9a22","strokeWidth":4.5,"strokeCap":"square","xOffset":-4.5},"encoding":{"x":{"field":"depth","type":"quantitative"},"x2":{"field":"depth"},"y":{"field":"pos","type":"quantitative"}}},
{"data":{"name":"nodes"},"transform":[{"filter":"datum.strain"}],"mark":{"type":"text","align":"left","baseline":"middle","dx":17,"font":"Lato","fontSize":11.2,"fontStyle":"italic","fontWeight":"bold","color":"#111111"},"encoding":{"x":{"field":"depth","type":"quantitative"},"y":{"field":"pos","type":"quantitative"},"text":{"field":"name"}}},
{"data":{"name":"nodes"},"transform":[{"filter":"datum.name && !datum.strain"}],"mark":{"type":"text","align":"left","baseline":"middle","dx":17,"font":"Lato","fontSize":11.2,"fontStyle":"italic","color":"#111111"},"encoding":{"x":{"field":"depth","type":"quantitative"},"y":{"field":"pos","type":"quantitative"},"text":{"field":"name"}}},
{"data":{"name":"nodes"},"transform":[{"filter":"datum.name == 'Leptosphaeria biglobosa'"}],"mark":{"type":"text","align":"left","baseline":"middle","dx":138.5,"font":"Lato","fontSize":11.2,"color":"#111111"},"encoding":{"x":{"field":"depth","type":"quantitative"},"y":{"field":"pos","type":"quantitative"},"text":{"field":"strain"}}},
{"data":{"name":"nodes"},"transform":[{"filter":"datum.name == 'Leptosphaeria maculans'"}],"mark":{"type":"text","align":"left","baseline":"middle","dx":137.5,"font":"Lato","fontSize":11.2,"color":"#111111"},"encoding":{"x":{"field":"depth","type":"quantitative"},"y":{"field":"pos","type":"quantitative"},"text":{"field":"strain"}}},
{"data":{"name":"clades"},"transform":[{"filter":"datum.node != 'I'"},{"lookup":"node","from":{"data":{"name":"nodes"},"key":"id","fields":["depth","pos"]}}],"mark":{"type":"text","align":"right","baseline":"alphabetic","dx":-4,"dy":-4,"font":"Lato","fontSize":8.5,"fontStyle":"italic","fontWeight":"bold","color":"#858585"},"encoding":{"x":{"field":"depth","type":"quantitative"},"y":{"field":"pos","type":"quantitative"},"text":{"field":"label"}}},
{"data":{"name":"clades"},"transform":[{"filter":"datum.node == 'I'"},{"lookup":"node","from":{"data":{"name":"nodes"},"key":"id","fields":["depth","pos"]}}],"mark":{"type":"text","align":"right","baseline":"alphabetic","dx":-3,"dy":-5.5,"font":"Lato","fontSize":8.5,"fontStyle":"italic","color":"#9a9a9a"},"encoding":{"x":{"field":"depth","type":"quantitative"},"y":{"field":"pos","type":"quantitative"},"text":{"field":"label"}}},
{"data":{"name":"titles"},"transform":[{"filter":"datum.panel == 'Olly'"}],"mark":{"type":"text","align":"right","baseline":"middle","font":"Liberation Sans","fontSize":18,"fontWeight":"bold","color":"#111111"},"encoding":{"x":{"datum":13.33,"type":"quantitative"},"y":{"datum":2.49,"type":"quantitative"},"text":{"field":"prefix"}}},
{"data":{"name":"titles"},"transform":[{"filter":"datum.panel == 'Olly'"}],"mark":{"type":"text","align":"left","baseline":"middle","font":"Liberation Sans","fontSize":18,"fontWeight":"bold","fontStyle":"italic","color":"#111111"},"encoding":{"x":{"datum":13.33,"type":"quantitative"},"y":{"datum":2.49,"type":"quantitative"},"text":{"field":"name"}}}
]},
{"width":548,"height":294,"layer":[
{"data":{"name":"boxes"},"transform":[{"filter":"datum.panel == 'Sahana'"}],"mark":{"type":"rect","color":"#dcd5e5","yOffset":-6.4,"y2Offset":6.4},"encoding":{"x":{"datum":104,"type":"quantitative","scale":{"domain":[-12.667,170],"nice":false,"zero":false},"axis":null},"x2":{"datum":166.3},"y":{"field":"from","type":"quantitative","scale":{"domain":[-0.0588,23.0],"reverse":true,"nice":false,"zero":false},"axis":null},"y2":{"field":"to"}}},
{"data":{"name":"nodes"},"transform":[{"filter":"datum.parent && datum.id != 'C'"},{"lookup":"parent","from":{"data":{"name":"nodes"},"key":"id","fields":["depth","pos"]},"as":["pdepth","ppos"]}],"mark":{"type":"rule","color":"#595959","strokeWidth":1,"strokeCap":"square"},"encoding":{"x":{"field":"pdepth","type":"quantitative"},"y":{"field":"ppos","type":"quantitative"},"y2":{"field":"pos"}}},
{"data":{"name":"nodes"},"transform":[{"filter":"datum.parent && datum.id != 'C'"},{"lookup":"parent","from":{"data":{"name":"nodes"},"key":"id","fields":["depth","pos"]},"as":["pdepth","ppos"]}],"mark":{"type":"rule","color":"#595959","strokeWidth":1,"strokeCap":"square"},"encoding":{"x":{"field":"pdepth","type":"quantitative"},"x2":{"field":"depth"},"y":{"field":"pos","type":"quantitative"}}},
{"data":{"name":"nodes"},"transform":[{"filter":"datum.id == 'C'"},{"lookup":"parent","from":{"data":{"name":"nodes"},"key":"id","fields":["depth","pos"]},"as":["pdepth","ppos"]}],"mark":{"type":"rule","color":"#666666","strokeWidth":1,"strokeDash":[1.5,1.5]},"encoding":{"x":{"field":"pdepth","type":"quantitative"},"y":{"field":"ppos","type":"quantitative"},"y2":{"field":"pos"}}},
{"data":{"name":"nodes"},"transform":[{"filter":"datum.id == 'C'"},{"lookup":"parent","from":{"data":{"name":"nodes"},"key":"id","fields":["depth","pos"]},"as":["pdepth","ppos"]}],"mark":{"type":"rule","color":"#666666","strokeWidth":1,"strokeDash":[1.5,1.5]},"encoding":{"x":{"field":"pdepth","type":"quantitative"},"x2":{"field":"depth"},"y":{"field":"pos","type":"quantitative"}}},
{"data":{"name":"hl"},"transform":[{"filter":"datum.panel == 'Sahana'"},{"lookup":"node","from":{"data":{"name":"nodes"},"key":"id","fields":["parent","depth","pos"]}},{"lookup":"parent","from":{"data":{"name":"nodes"},"key":"id","fields":["depth","pos"]},"as":["pdepth","ppos"]}],"mark":{"type":"rule","color":"#4a2a7d","strokeWidth":5,"strokeCap":"square"},"encoding":{"x":{"field":"pdepth","type":"quantitative"},"y":{"field":"ppos","type":"quantitative"},"y2":{"field":"pos"}}},
{"data":{"name":"hl"},"transform":[{"filter":"datum.panel == 'Sahana'"},{"lookup":"node","from":{"data":{"name":"nodes"},"key":"id","fields":["parent","depth","pos"]}},{"lookup":"parent","from":{"data":{"name":"nodes"},"key":"id","fields":["depth","pos"]},"as":["pdepth","ppos"]}],"mark":{"type":"rule","color":"#4a2a7d","strokeWidth":5,"strokeCap":"square"},"encoding":{"x":{"field":"pdepth","type":"quantitative"},"x2":{"field":"depth"},"y":{"field":"pos","type":"quantitative"}}},
{"data":{"name":"stubs"},"transform":[{"filter":"datum.panel == 'Sahana'"},{"lookup":"node","from":{"data":{"name":"nodes"},"key":"id","fields":["depth","pos"]}}],"mark":{"type":"rule","color":"#4a2a7d","strokeWidth":5,"strokeCap":"square","xOffset":-3},"encoding":{"x":{"field":"depth","type":"quantitative"},"x2":{"field":"depth"},"y":{"field":"pos","type":"quantitative"}}},
{"data":{"name":"nodes"},"transform":[{"filter":"datum.strain"}],"mark":{"type":"text","align":"left","baseline":"middle","dx":17,"font":"Lato","fontSize":11.2,"fontStyle":"italic","fontWeight":"bold","color":"#111111"},"encoding":{"x":{"field":"depth","type":"quantitative"},"y":{"field":"pos","type":"quantitative"},"text":{"field":"name"}}},
{"data":{"name":"nodes"},"transform":[{"filter":"datum.name && !datum.strain"}],"mark":{"type":"text","align":"left","baseline":"middle","dx":17,"font":"Lato","fontSize":11.2,"fontStyle":"italic","color":"#111111"},"encoding":{"x":{"field":"depth","type":"quantitative"},"y":{"field":"pos","type":"quantitative"},"text":{"field":"name"}}},
{"data":{"name":"nodes"},"transform":[{"filter":"datum.name == 'Leptosphaeria biglobosa'"}],"mark":{"type":"text","align":"left","baseline":"middle","dx":138.5,"font":"Lato","fontSize":11.2,"color":"#111111"},"encoding":{"x":{"field":"depth","type":"quantitative"},"y":{"field":"pos","type":"quantitative"},"text":{"field":"strain"}}},
{"data":{"name":"nodes"},"transform":[{"filter":"datum.name == 'Leptosphaeria maculans'"}],"mark":{"type":"text","align":"left","baseline":"middle","dx":137.5,"font":"Lato","fontSize":11.2,"color":"#111111"},"encoding":{"x":{"field":"depth","type":"quantitative"},"y":{"field":"pos","type":"quantitative"},"text":{"field":"strain"}}},
{"data":{"name":"clades"},"transform":[{"filter":"datum.node != 'I'"},{"lookup":"node","from":{"data":{"name":"nodes"},"key":"id","fields":["depth","pos"]}}],"mark":{"type":"text","align":"right","baseline":"alphabetic","dx":-4,"dy":-4,"font":"Lato","fontSize":8.5,"fontStyle":"italic","fontWeight":"bold","color":"#858585"},"encoding":{"x":{"field":"depth","type":"quantitative"},"y":{"field":"pos","type":"quantitative"},"text":{"field":"label"}}},
{"data":{"name":"clades"},"transform":[{"filter":"datum.node == 'I'"},{"lookup":"node","from":{"data":{"name":"nodes"},"key":"id","fields":["depth","pos"]}}],"mark":{"type":"text","align":"right","baseline":"alphabetic","dx":-3,"dy":-5.5,"font":"Lato","fontSize":8.5,"fontStyle":"italic","color":"#9a9a9a"},"encoding":{"x":{"field":"depth","type":"quantitative"},"y":{"field":"pos","type":"quantitative"},"text":{"field":"label"}}},
{"data":{"name":"titles"},"transform":[{"filter":"datum.panel == 'Sahana' && datum.line == 1"}],"mark":{"type":"text","align":"right","baseline":"middle","font":"Liberation Sans","fontSize":18,"fontWeight":"bold","color":"#111111"},"encoding":{"x":{"datum":10.67,"type":"quantitative"},"y":{"datum":2.33,"type":"quantitative"},"text":{"field":"prefix"}}},
{"data":{"name":"titles"},"transform":[{"filter":"datum.panel == 'Sahana' && datum.line == 1"}],"mark":{"type":"text","align":"left","baseline":"middle","font":"Liberation Sans","fontSize":18,"fontWeight":"bold","fontStyle":"italic","color":"#111111"},"encoding":{"x":{"datum":10.67,"type":"quantitative"},"y":{"datum":2.33,"type":"quantitative"},"text":{"field":"name"}}},
{"data":{"name":"titles"},"transform":[{"filter":"datum.panel == 'Sahana' && datum.line == 2"}],"mark":{"type":"text","align":"right","baseline":"middle","font":"Liberation Sans","fontSize":18,"fontWeight":"bold","color":"#111111"},"encoding":{"x":{"datum":10.33,"type":"quantitative"},"y":{"datum":3.94,"type":"quantitative"},"text":{"field":"prefix"}}},
{"data":{"name":"titles"},"transform":[{"filter":"datum.panel == 'Sahana' && datum.line == 2"}],"mark":{"type":"text","align":"left","baseline":"middle","font":"Liberation Sans","fontSize":18,"fontWeight":"bold","fontStyle":"italic","color":"#111111"},"encoding":{"x":{"datum":10.33,"type":"quantitative"},"y":{"datum":3.94,"type":"quantitative"},"text":{"field":"name"}}}
]}
]
}
